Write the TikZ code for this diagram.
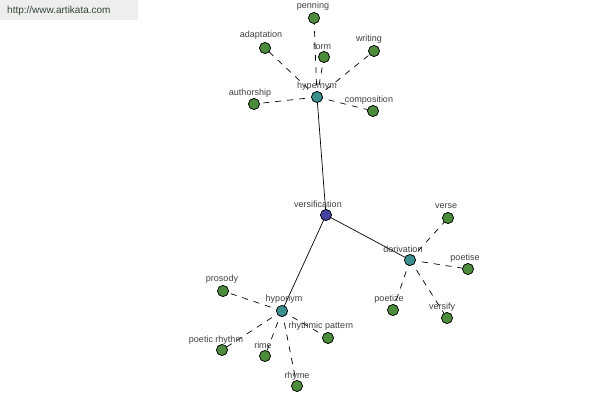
\documentclass[tikz,border=0pt]{standalone}
\usepackage{fontspec}
\setmainfont{Liberation Sans}
\begin{document}
\begin{tikzpicture}[x=1pt,y=-1pt,
  dot/.style={circle,draw=black,line width=0.6pt,minimum size=11pt,inner sep=0pt},
  leaf/.style={dot,fill=leafgreen},
  hub/.style={dot,fill=hubteal},
  root/.style={dot,fill=rootblue},
  lbl/.style={font=\fontsize{9}{10}\selectfont,text=labelgray,inner sep=0pt},
  solidedge/.style={draw=black,line width=0.7pt},
  dashedge/.style={draw=black,line width=0.7pt,dash pattern=on 6pt off 6pt}]
\definecolor{leafgreen}{HTML}{4C8C3C}
\definecolor{hubteal}{HTML}{3C9090}
\definecolor{rootblue}{HTML}{4444A0}
\definecolor{labelgray}{HTML}{404040}
\definecolor{wmbg}{HTML}{EEEEEE}
\definecolor{wmtext}{HTML}{34443A}
\useasboundingbox (0,0) rectangle (600,400);
\fill[white] (0,0) rectangle (600,400);
\fill[wmbg] (0,0) rectangle (138,20);
\node[font=\fontsize{10}{12}\selectfont,text=wmtext,anchor=west,inner sep=0pt] (wm) at (7,11) {http://www.artikata.com};
% node positions
\coordinate (cvers) at (326,215);
\coordinate (chyper) at (317,97);
\coordinate (cderiv) at (410,260);
\coordinate (chypo) at (282,311);
\node[root] (vers) at (cvers) {};
\node[hub] (hyper) at (chyper) {};
\node[hub] (deriv) at (cderiv) {};
\node[hub] (hypo) at (chypo) {};
\node[leaf] (penning) at (314,18) {};
\node[leaf] (adaptation) at (265,48) {};
\node[leaf] (form) at (324,57) {};
\node[leaf] (writing) at (374,51) {};
\node[leaf] (authorship) at (254,104) {};
\node[leaf] (composition) at (373,111) {};
\node[leaf] (verse) at (448,218) {};
\node[leaf] (poetise) at (468,269) {};
\node[leaf] (poetize) at (393,310) {};
\node[leaf] (versify) at (447,318) {};
\node[leaf] (prosody) at (223,291) {};
\node[leaf] (poeticrhythm) at (222,350) {};
\node[leaf] (rime) at (265,356) {};
\node[leaf] (rhythmicpattern) at (328,338) {};
\node[leaf] (rhyme) at (297,386) {};
% connectors
\path[solidedge] (vers.center) -- (hyper.center);
\path[solidedge] (vers.center) -- (deriv.center);
\path[solidedge] (vers.center) -- (hypo.center);
\foreach \l in {penning,adaptation,form,writing,authorship,composition}
  \path[dashedge] (hyper.center) -- (\l.center);
\foreach \l in {verse,poetise,poetize,versify}
  \path[dashedge] (deriv.center) -- (\l.center);
\foreach \l in {prosody,poeticrhythm,rime,rhythmicpattern,rhyme}
  \path[dashedge] (hypo.center) -- (\l.center);
% redraw nodes over connectors
\node[root] at (cvers) {};
\node[hub] at (chyper) {};
\node[hub] at (cderiv) {};
\node[hub] at (chypo) {};
\foreach \l in {penning,adaptation,form,writing,authorship,composition,verse,poetise,poetize,versify,prosody,poeticrhythm,rime,rhythmicpattern,rhyme}
  \node[leaf] at (\l.center) {};
% labels
\node[lbl] (lvers) at (318,204) {versification};
\node[lbl] (lhyper) at (317,86) {hypernym};
\node[lbl] (lderiv) at (403,249) {derivation};
\node[lbl] (lhypo) at (284,299) {hyponym};
\node[lbl] (lpenning) at (313,6) {penning};
\node[lbl] (ladaptation) at (261,35) {adaptation};
\node[lbl] (lform) at (322,46) {form};
\node[lbl] (lwriting) at (369,39) {writing};
\node[lbl] (lauthorship) at (250,93) {authorship};
\node[lbl] (lcomposition) at (369,100) {composition};
\node[lbl] (lverse) at (446,206) {verse};
\node[lbl] (lpoetise) at (465,258) {poetise};
\node[lbl] (lpoetize) at (389,299) {poetize};
\node[lbl] (lversify) at (442,307) {versify};
\node[lbl] (lprosody) at (222,279) {prosody};
\node[lbl] (lpoeticrhythm) at (216,340) {poetic rhythm};
\node[lbl] (lrime) at (263,345) {rime};
\node[lbl] (lrhythmicpattern) at (321,326) {rhythmic pattern};
\node[lbl] (lrhyme) at (297,376) {rhyme};
\end{tikzpicture}
\end{document}
